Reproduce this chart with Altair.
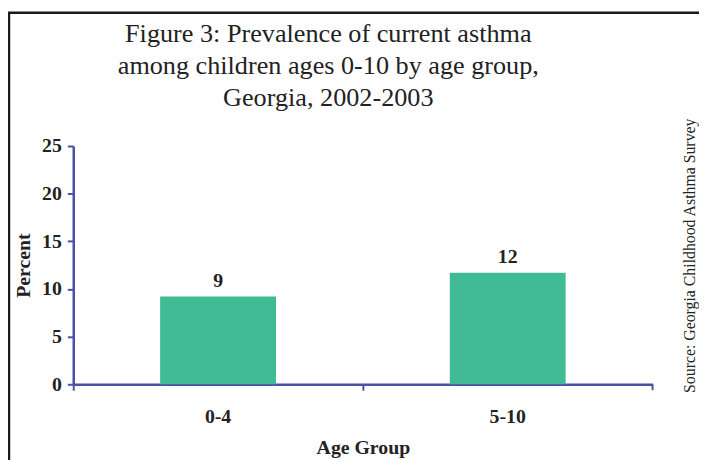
import altair as alt
import pandas as pd

age_groups = ["0-4", "5-10"]
percents = [9.2, 11.7]

title_lines = ["Figure 3: Prevalence of current asthma",
               "among children ages 0-10 by age group,",
               "Georgia, 2002-2003"]
source_text = "Source: Georgia Childhood Asthma Survey"

df = pd.DataFrame({"Age Group": age_groups, "Percent": percents})

SERIF = "Liberation Serif"
AXIS_COLOR = "#4B50A6"
BAR_COLOR = "#40BB93"
W, H = 586, 241

x_enc = alt.X("Age Group:N", sort=age_groups,
              scale=alt.Scale(paddingInner=0.6, paddingOuter=0.3),
              axis=alt.Axis(title="Age Group", labelAngle=0, bandPosition=-0.75,
                            labelPadding=17, titlePadding=11))

bars = alt.Chart(df).mark_bar(color=BAR_COLOR).encode(
    x=x_enc,
    y=alt.Y("Percent:Q", scale=alt.Scale(domain=[0, 25], nice=False),
            axis=alt.Axis(title="Percent", values=[0, 5, 10, 15, 20, 25],
                          grid=False, labelPadding=6, titlePadding=8)),
)

labels = alt.Chart(df).mark_text(
    font=SERIF, fontSize=20, fontWeight="bold", color="#222",
    baseline="alphabetic", dy=-9.5
).encode(
    x=alt.X("Age Group:N", sort=age_groups),
    y="Percent:Q",
    text=alt.Text("Percent:Q", format=".0f"),
)

one = alt.Data(values=[{"t": source_text}])

source = alt.Chart(one).mark_text(
    font=SERIF, fontSize=16, color="#222", angle=270, align="center", baseline="middle"
).encode(x=alt.value(624), y=alt.value(111), text="t:N")

end_tick = alt.Chart(one).mark_rule(color=AXIS_COLOR, strokeWidth=2).encode(
    x=alt.value(W), y=alt.value(H), y2=alt.value(H + 6))

frame_top = alt.Chart(one).mark_rule(color="#1a1a1a", strokeWidth=2.5).encode(
    x=alt.value(-66.2), x2=alt.value(640), y=alt.value(-134.7))
frame_left = alt.Chart(one).mark_rule(color="#1a1a1a", strokeWidth=2.5).encode(
    x=alt.value(-65), y=alt.value(-134.7), y2=alt.value(320))

chart = alt.layer(bars, labels, source, end_tick, frame_top, frame_left).properties(
    width=W, height=H,
    autosize=alt.AutoSizeParams(type="none"),
    padding={"left": 66, "top": 137, "right": 47, "bottom": 74},
    title=alt.TitleParams(title_lines, font=SERIF, fontSize=26.5, fontWeight="normal",
                          color="#222", anchor="middle", frame="group", dx=-35,
                          lineHeight=32.5, offset=-101),
).configure_view(stroke=None).configure_axis(
    domainColor=AXIS_COLOR, domainWidth=2.5, tickColor=AXIS_COLOR, tickWidth=2,
    tickSize=6, labelFont=SERIF, labelFontSize=20, labelFontWeight="bold",
    labelColor="#222", titleFont=SERIF, titleFontSize=20, titleFontWeight="bold",
    titleColor="#222",
)

chart.save("out.html", embed_options={"renderer": "svg", "actions": False})
